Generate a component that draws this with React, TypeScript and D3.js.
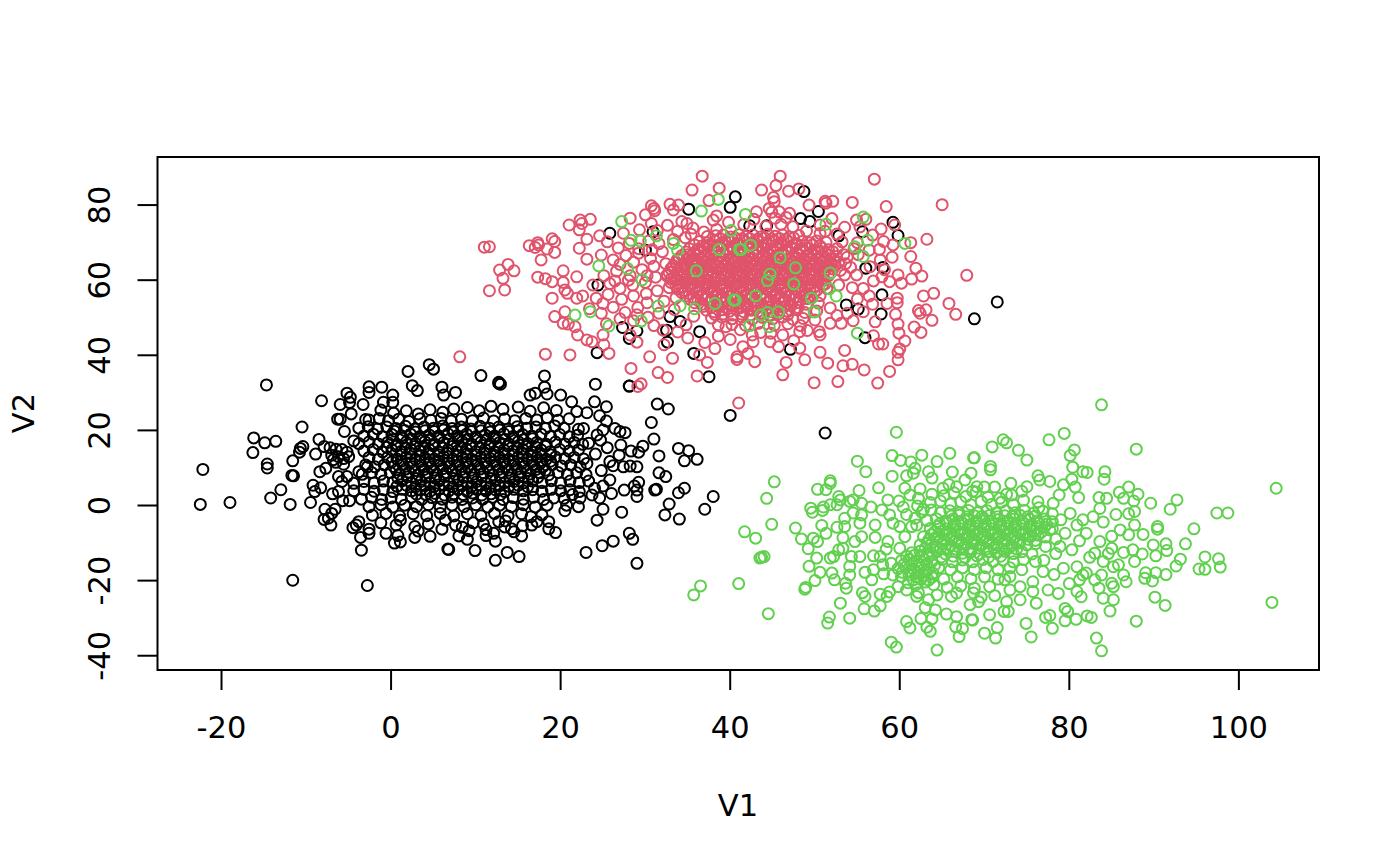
import React from 'react'
import * as d3 from 'd3'

// flat lists of V1,V2 pairs
const blackEdge = [
-14.7,32.1,-8.2,27.9,-10.5,20.9,-16.2,18,-14.9,16.7,-13.6,17.1,-16.3,14.1,-14.6,11.05,-14.6,10,-22.2,9.6,-22.5,0.3,-19,0.8,-14.2,2,-13,4.2,-11.9,0.3,-9.5,0.8,-11.6,11.9,-10.7,15.2,-10.4,15.7,-10.8,14.2,-11.7,8,-11.5,7.9,-11.6,-19.9,-2.8,-21.3,-3.5,-11.9,6.7,-11.6,-9.2,5.4,-9,3.7,-8.3,4.7,-8.5,17.6,-8.9,13.7,-8.4,9,-7.7,9.9,-7.8,-1,-7.9,-3.7,-7.4,-3.4,-7.1,-5.2,-6.6,-1,-7,-2.1,-6.9,3.1,-6.2,3.7,-5.7,1.3,-4.9,1.3,-4.5,-5.9,-3.8,-4.3,-4.1,-5.2,-2.6,-6.3,-2.6,-7.4,-3.6,-8.5,-5.5,19.7,-4.4,17.2,-3,22.9,-4.7,24.4,-6,23,-6.3,23,-3.3,26.9,-6,26.9,-4.9,27.4,-5.2,29.9,-4.8,28.8,-2.6,31.6,-2.6,30.1,-1.1,31.5,0.2,29.4,0.2,27.5,-0.9,27.5,2,35.7,2.5,31.9,3.1,30.6,4.5,37.5,5,36.3,6,31.5,6.2,29.4,7.6,30.1,
-7.9,15.7,-7.2,15.4,-6.5,15,-5.8,14.9,-5.2,14.2,-5,13,-5.6,12.5,-6.2,13,-7,13.4,-6.5,11.5,-5.6,11,-6.8,12.2,-6.2,7.7,-5.2,7.7,-5.8,6.4,-3.8,9,-2.8,10.3,
10.6,34.6,12.7,32.5,12.7,32.8,12.9,32.3,18.1,34.5,18.1,31.5,18.4,29.7,17,29.9,16.4,29.4,20,29.4,24.1,32.3,28.1,31.8,31.4,27,32.7,25.7,30.7,22.1,31,17.7,29.7,15.8,28.3,14.5,29.2,14.2,27.1,16.1,26.9,13.4,25.5,15.4,31.6,13.2,33.9,15.2,35.1,14.6,34.6,11.9,36.1,12.3,31.6,8.7,32.4,7.7,29.2,6.2,29,4.1,28.7,5.2,31.3,4.3,31.1,4.1,34.6,4.6,33.9,3.4,32.8,0.4,38,2.4,37,-1,32.3,-2.5,34,-3.6,29,2.4,27.5,4.1,27.2,-1.8,25,-1,24.3,-3.9,28.1,-7.4,28.5,-9,29,-15.4,26.2,-9.5,24.9,-10.7,23,-12.5,19.4,-7.2,18.6,-6.2,18.6,-4.3,15.1,-13.6,13.7,-12.5,12.3,-14.6,9.9,-12,6.8,-11.7,9,-9,8,-8.1,12.3,-9.5,12.1,-7.4,11.2,-8,15.4,-8.1,14.5,-7,15.5,-5.4,6.4,-3.9,7.6,-5.2,9.7,-4.6,10.9,-4.9,12.7,-4.3,13.5,-4.1,16.5,-3,17.8,-2.5,22.1,-0.3,20.5,-1.4,20.7,0.1,22.3,2,23.7,2.8,24.6,2,26,3.2,25.8,6.8,24.8,9.3,29,10.3,28.2,10.5,27.4,10.3,26.2,10.6,25.8,11.7,27.6,19.4,27,19.7,26.4,20.5,25,20.1,25.4,22.5,24.6,23.9,25.4,26.3,24,27.6,23.1,24.7,21.9,25,21.3,27.6,22.7,20.5,22.1,20.3,24.3,18.8,24.7,17.4,23.3,16.6,24.1,13.7,23.1,11.2,
35.1,78.9,40.6,82.2,40,79.4,25.8,72.5,30,68,24.4,58.7,27.3,47.4,28.1,44.5,29,46.5,32.6,43.5,24.3,40.7,35.7,40.5,37.5,34.3,28.1,31.8,30.9,72.9,32.9,50.3,34.1,49,32.5,46.7,36.4,46.3,48.7,83.6,50.4,78.3,48.3,76.4,49.4,75.6,55.6,72.9,59.2,75.4,59.8,71.9,57.8,51,68.8,49.7,71.5,54.2,55.9,44.7,47.1,41.6,57.9,56.1,56,63.2,58,63.4,53.7,53.4,55.1,52.3,44.3,74.5,42.3,74.5,52.8,71.8,51.2,19.3,40,24
]
const blackCore = [
-1.2,25.4,0.3,24.6,1.8,25.2,3.2,24.4,4.6,25.5,6.1,24.8,7.4,25.7,9,26.1,10.4,25.2,11.8,26.4,13.2,25.6,15,26.2,16.4,25.1,18,26,19.5,25.3,
-2.6,22.8,-1.4,23.2,-0.3,22.6,0.9,23,2.1,22.4,3.4,23.1,4.7,22.7,5.9,23.2,7.1,22.5,8.3,23,9.6,22.6,10.9,23.3,12.1,22.5,13.4,23.1,14.6,22.6,15.9,23.2,17.2,22.8,18.4,23.4,19.7,22.7,21,23.1,
-3.8,20.6,-2.7,21,-1.6,20.4,-0.5,20.9,0.6,20.5,1.7,21.1,2.8,20.4,3.9,20.9,5,20.6,6.1,21.2,7.2,20.5,8.3,20.9,9.4,20.4,10.5,21.1,11.6,20.6,12.7,20.9,13.8,20.3,14.9,21,16,20.6,17.1,20.9,18.2,20.5,19.3,21.2,20.4,20.6,
-3.2,18.5,-2.1,19,-1,18.4,0.1,18.9,1.2,18.6,2.3,19,3.4,18.4,4.5,18.8,5.6,18.5,6.7,19.1,7.8,18.6,8.9,19,10,18.3,11.1,18.8,12.2,18.5,13.3,19.1,14.4,18.4,15.5,18.9,16.6,18.5,17.7,19,18.8,18.4,19.9,18.9,21,18.3,22,18.7,
-3.8,16.5,-2.6,16.9,-1.5,16.4,-0.4,16.8,0.7,16.3,1.8,16.9,2.9,16.5,4,17,5.1,16.4,6.2,16.8,7.3,16.5,8.4,17,9.5,16.3,10.6,16.9,11.7,16.5,12.8,16.8,13.9,16.4,15,17,16.1,16.5,17.2,16.8,18.3,16.3,19.4,16.9,20.5,16.4,21.6,16.8,22.6,16.3,
-3.2,14.5,-2.1,14.9,-1,14.3,0.1,14.8,1.2,14.4,2.3,15,3.4,14.6,4.5,14.9,5.6,14.3,6.7,14.8,7.8,14.5,8.9,15,10,14.4,11.1,14.9,12.2,14.3,13.3,14.8,14.4,14.5,15.5,15,16.6,14.4,17.7,14.8,18.8,14.3,19.9,14.9,21,14.5,22.1,14.8,
-2.6,12.8,-1.5,12.3,-0.4,12.8,0.7,12.4,1.8,12.9,2.9,12.3,4,12.7,5.1,12.4,6.2,13,7.3,12.4,8.4,12.8,9.5,12.3,10.6,12.9,11.7,12.5,12.8,12.8,13.9,12.3,15,12.9,16.1,12.4,17.2,12.8,18.3,12.3,19.4,12.9,20.5,12.5,21.6,12.8,22.7,12.4,
-3,10.8,-1.9,10.3,-0.8,10.8,0.3,10.4,1.4,10.9,2.5,10.3,3.6,10.7,4.7,10.3,5.8,10.9,6.9,10.4,8,10.8,9.1,10.3,10.2,10.9,11.3,10.4,12.4,10.8,13.5,10.3,14.6,10.9,15.7,10.4,16.8,10.8,17.9,10.3,19,10.9,20.1,10.5,21.2,10.8,22.3,10.3,
-3.4,8.3,-2.3,8.8,-1.2,8.3,-0.1,8.8,1,8.4,2.1,8.9,3.2,8.2,4.3,8.7,5.4,8.3,6.5,8.8,7.6,8.3,8.7,8.9,9.8,8.4,10.9,8.7,12,8.2,13.1,8.8,14.2,8.3,15.3,8.9,16.4,8.4,17.5,8.7,18.6,8.2,19.7,8.8,20.8,8.3,21.9,8.7,23,8.2,
-4.4,5.9,-3.2,6.4,-2,6,-0.9,6.5,0.2,6.1,1.3,6.6,2.4,6,3.5,6.4,4.6,6.1,5.7,6.6,6.8,6,7.9,6.5,9,6.1,10.1,6.4,11.2,6,12.3,6.6,13.4,6.1,14.5,6.4,15.6,6,16.7,6.5,17.8,6.1,18.9,6.6,20,6,21.1,6.5,22.2,6.1,23.3,6.5,
-4.4,3.9,-3.2,4.3,-2,3.8,-0.9,4.2,0.2,3.7,1.3,4.3,2.4,3.9,3.5,4.2,4.6,3.8,5.7,4.4,6.8,3.9,7.9,4.2,9,3.7,10.1,4.3,11.2,3.9,12.3,4.2,13.4,3.7,14.5,4.3,15.6,3.9,16.7,4.2,17.8,3.8,18.9,4.3,20,3.9,21.1,4.2,22.2,3.7,24,4.6,25,5.2,
-3.5,1.7,-2.3,2.2,-1.1,1.6,0,2,1.2,1.7,2.4,2.2,3.6,1.6,4.8,2.1,6,1.7,7.2,2.2,8.4,1.6,9.6,2,10.8,1.7,12,2.2,13.2,1.6,14.4,2.1,15.6,1.7,16.8,2.2,18,1.6,19.2,2,20.4,1.9,21.4,2.9,
-2.6,-0.3,-1.2,0.2,0.2,-0.4,1.6,0.1,3,-0.3,4.4,0.2,5.8,-0.4,7.2,0.1,8.6,-0.3,10,0.2,11.4,-0.4,12.8,0.1,14.2,-0.3,15.6,0.2,17,-0.4,18.4,0.1,
-2.2,-2.6,-0.6,-2.1,1,-2.8,2.6,-2.2,4.2,-2.7,5.8,-2.1,7.4,-2.8,9,-2.2,10.6,-2.7,12.2,-2.1,13.8,-2.8,15.4,-2.2,
-1.2,-4.6,0.6,-5.2,1.1,-3.9,2.8,-5.6,4.4,-4.9,6,-6.3,8.4,-5.8,9.2,-6.7,11.2,-6.4,13.4,-5.7,-0.6,-7.4,0.8,-8,1.1,-9.7,0.4,-10,3.2,-6.8,2.8,-8.5,4.6,-8.2,14.2,-6.2,16.6,-5.2,17.2,-4.3
]
const blackDense = [
0.4,19.8,1.6,20,2.9,19.6,4,19.9,5.1,19.7,6.2,20.1,7.3,19.6,8.4,20,9.5,19.7,10.6,19.9,11.7,19.6,12.8,20.1,13.9,19.7,15,19.9,
0.2,17.6,1.3,17.9,2.4,17.5,3.5,17.8,4.6,17.6,5.7,18,6.8,17.5,7.9,17.8,9,17.6,10.1,17.9,11.2,17.5,12.3,17.8,13.4,17.6,14.5,17.9,15.6,17.5,16.7,17.8,
-0.5,15.5,0.6,15.8,1.7,15.4,2.8,15.7,3.9,15.5,5,15.9,6.1,15.4,7.2,15.7,8.3,15.5,9.4,15.8,10.5,15.4,11.6,15.7,12.7,15.5,13.8,15.8,14.9,15.4,16,15.7,17.1,15.5,18.2,15.8,
1.2,13.6,2.3,13.8,3.4,13.4,4.5,13.7,5.6,13.5,6.7,13.9,7.8,13.4,8.9,13.7,10,13.5,11.1,13.8,12.2,13.4,13.3,13.7,14.4,13.5,15.5,13.8,16.6,13.4,17.7,13.7,18.8,13.5,
0.1,11.6,1.2,11.8,2.3,11.4,3.4,11.7,4.5,11.5,5.6,11.9,6.7,11.4,7.8,11.7,8.9,11.5,10,11.8,11.1,11.4,12.2,11.7,13.3,11.5,14.4,11.8,15.5,11.4,16.6,11.7,17.7,11.5,18.8,11.8,
0.6,9.5,1.7,9.7,2.8,9.3,3.9,9.6,5,9.4,6.1,9.8,7.2,9.3,8.3,9.6,9.4,9.4,10.5,9.7,11.6,9.3,12.7,9.6,13.8,9.4,14.9,9.7,16,9.3,17.1,9.6,18.2,9.4,
0.8,7.3,1.9,7.6,3,7.2,4.1,7.5,5.2,7.3,6.3,7.7,7.4,7.2,8.5,7.5,9.6,7.3,10.7,7.6,11.8,7.2,12.9,7.5,14,7.3,15.1,7.6,16.2,7.2,17.3,7.5,
0.7,5.1,1.8,5.4,2.9,5,4,5.3,5.1,5.1,6.2,5.5,7.3,5,8.4,5.3,9.5,5.1,10.6,5.4,11.7,5,12.8,5.3,13.9,5.1,15,5.4,16.1,5,
3,3,4.1,2.9,5.2,3.2,6.3,2.8,7.4,3.1,8.5,2.9,9.6,3.3,10.7,2.8,11.8,3.1,12.9,2.9
]

const redEdge = [
36.7,87.7,35.5,84,38.7,84.5,37.5,81.2,8.1,39.6,18.2,40.3,21.1,40.1,25.7,40.5,30.5,39.6,33.2,39.2,28.3,36.5,31.5,35.4,32.6,34.1,36.1,34.5,29.5,32.4,29.1,31.7,37.3,38.1,36.4,40.1,11,68.8,11.6,68.9,13.8,64.2,12.8,62.7,14.5,62.5,13.2,60.5,11.6,57.2,13.4,57.4,16.3,69.2,17.3,70,17.4,69.4,17,68.7,18.4,68.3,19,71,19.3,70.3,19.3,67.4,17.7,65.4,21,74.7,22.3,76,22.5,75.1,22.2,73.4,23.5,76.2,23.1,70.9,22.2,68.5,24.6,71.8,23.1,65.6,20.3,62.5,17.3,60.8,18.2,60.4,19,59.6,20.3,59.4,21.9,60.9,20.5,57.4,20.8,56.5,19,55.2,21.9,55.2,20.5,51.6,19.3,50.3,20.3,48.5,20.9,48.3,21.7,47.6,22,45.4,23.1,44.1,23.7,43.6,25,45.4,25.1,42.8,28.2,45.4,29,43.5,32.2,42.8,32.1,46.7,28.2,76.5,30.7,79.8,31,79.1,31.1,78.5,32.9,80.2,33.9,80,33.3,78.7,30,77.4,30.7,75.1,34.3,75.6,34.9,75.1,38,76,38.4,77.1,
45.9,87.7,45.4,85.2,43.7,84,46.9,83.7,48.1,84.3,57,86.9,65,80.1,54.4,80.7,58.4,79.6,52.1,81,51.2,81,51.3,80.5,49.3,80,45.1,82,45.2,80.9,44.6,79.1,43.1,78.2,44.9,78.1,45.8,78.2,47,77.8,46.6,76.7,45.3,76.5,54.9,76,56,76.2,53.5,74.1,50.6,74.7,57.8,73.6,63.2,70.9,56.8,72,58.1,70.3,59.4,74.7,61.3,70,59.2,69.4,57.6,68.2,59.1,66.1,61.3,66.3,61.9,63.2,62.6,61.1,61.4,60.3,67.9,61.3,60.2,59.2,59.8,61.4,64,56.5,62.8,55.8,65.8,53.8,66.6,50.9,63.8,49.3,63.1,52.1,62.2,51.9,62.4,51.2,61.7,47.5,62.5,46.1,59.5,50.9,59.8,48.3,59.9,45.9,60.6,43.8,60,41.7,59.8,40.8,59.8,38.8,58.8,35.7,57.4,32.6,52.7,33,49.9,32.7,55.8,36.1,54.4,37.6,53.3,37.2,53.5,41.3,51.5,37.9,50.6,40.8,48.8,38.8,46.6,38.1,46.2,34.8,42.9,38.3,42.1,40.5,40.8,38.9,40.8,39.6,41.5,42.3,57.5,43,58,43,56.9,45.2,59.7,54,59.7,55.2,58.5,53.8,56.4,55.8,50.6,45.4,50.5,46.3,48.2,46.3,49.1,46.6,55.7,51.6,54.5,49.2,53.1,48.5,51.8,48.5,48.2,41.9,45.7,42.3,42.7,43.6,44.7,43.6,55.7,57.8,54.9,61.4,56.5,63.6,57.9,60.9,58.8,59.6,57.7,65.4,53.5,61.4,52.8,58.7,41,27.3
]
const redCore = [
25.5,70.2,26.8,68.6,28.1,69.8,27.4,72.5,29.3,73.4,31.4,73.2,32.6,74.6,33.8,73,35.6,73.9,36.9,72.8,38.4,73.5,39.8,75.4,41.6,74.8,42.8,76.2,44.2,74.3,46,74.9,47.4,74.2,49,73.1,50.6,72.4,
24.8,66.7,26.2,65.4,27.7,66.6,29.2,67.2,30.6,65.8,32,67.6,33.3,70.8,34.7,71.3,31.6,69.7,25.1,61.2,26.6,62.4,28.2,61.2,29.6,62.8,31,63.7,32.4,64.4,33.8,65.6,35,66.8,36.2,68.2,37.6,69.2,23.8,58.7,25.8,59.1,27,57.8,28.5,58.7,30,59.4,31.2,60.8,32.6,61.4,22.6,55.8,24.2,55.2,25.6,56.2,27.2,54.9,28.6,55.8,30.1,56.4,31.4,57.2,32.8,58,23.4,52.4,24.8,51.2,26.2,52.8,27.6,51.4,29.1,52.7,30.2,54,32.2,54.4,33.6,55.3,25.4,48.4,27,49.7,28.6,49.2,30.3,50.1,31.6,51.2,33.4,52.2,34.8,48.1,35.7,50.4,31,47.9,33.8,46.2,35,44.6,37,43.4,38.6,45.1,40,44.2,41.2,46.8,39.5,47.6,43.6,46.1,46.2,45.4,47.5,43.9,38.2,41.8,
38.3,71.8,39.2,72,40.1,71.5,41,72.1,41.9,71.6,42.7,72,43.6,71.5,44.4,72.2,45.3,71.7,46.2,72,47,71.5,48.1,71.9,
36.4,70.3,37.3,70,38.2,70.4,39,69.9,39.9,70.3,40.8,69.8,41.6,70.4,42.5,70,43.3,70.3,44.2,69.9,45.1,70.4,45.9,70,46.8,70.3,47.7,69.8,48.5,70.3,49.4,70,50.2,70.4,51.3,70.1,
35.2,68.4,36.1,68,37,68.6,37.8,68.1,38.7,68.5,39.6,68,40.4,68.6,41.3,68.2,42.1,68.5,43,68,43.9,68.6,44.7,68.1,45.6,68.4,46.5,68,47.3,68.6,48.2,68.2,49,68.5,49.9,68,50.8,68.6,51.6,68.1,52.6,68.4,
34.3,66.6,35.2,66.2,36.1,66.7,36.9,66.3,37.8,66.8,38.7,66.3,39.5,66.7,40.4,66.2,41.2,66.8,42.1,66.3,43,66.6,43.8,66.2,44.7,66.8,45.6,66.3,46.4,66.7,47.3,66.2,48.1,66.8,49,66.4,49.9,66.6,50.7,66.2,51.6,66.7,52.5,66.3,53.4,66.8,
33.6,64.8,34.6,64.4,35.5,64.9,36.3,64.5,37.2,65,38.1,64.4,38.9,64.9,39.8,64.5,40.6,65,41.5,64.4,42.4,64.8,43.2,64.5,44.1,65,45,64.4,45.8,64.9,46.7,64.5,47.5,65,48.4,64.4,49.3,64.8,50.1,64.5,51,65,51.9,64.4,52.8,64.8,53.6,64.4,
33,63,33.9,62.6,34.8,63.1,35.7,62.7,36.5,63.2,37.4,62.6,38.3,63,39.1,62.7,40,63.2,40.9,62.6,41.7,63.1,42.6,62.7,43.4,63.2,44.3,62.6,45.2,63,46,62.7,46.9,63.2,47.8,62.6,48.6,63.1,49.5,62.7,50.4,63.2,51.2,62.6,52.1,63,53,62.6,
32.5,61.2,33.4,60.8,34.3,61.3,35.2,60.9,36,61.4,36.9,60.8,37.8,61.2,38.6,60.9,39.5,61.4,40.4,60.8,41.2,61.3,42.1,60.9,42.9,61.4,43.8,60.8,44.7,61.2,45.5,60.9,46.4,61.4,47.3,60.8,48.1,61.3,49,60.9,49.9,61.4,50.7,60.8,51.6,61.2,
33,59.4,33.9,59,34.8,59.5,35.6,59.1,36.5,59.6,37.4,59,38.2,59.4,39.1,59.1,40,59.6,40.8,59,41.7,59.5,42.5,59.1,43.4,59.6,44.3,59,45.1,59.4,46,59.1,46.9,59.6,47.7,59,48.6,59.5,49.5,59.1,50.3,59.6,51.2,59,
33.8,57.6,34.7,57.2,35.5,57.7,36.4,57.3,37.3,57.8,38.1,57.2,39,57.6,39.9,57.3,40.7,57.8,41.6,57.2,42.4,57.7,43.3,57.3,44.2,57.8,45,57.2,45.9,57.6,46.8,57.3,47.6,57.8,48.5,57.2,49.4,57.7,50.2,57.3,51.4,57.8,
34.8,55.8,35.7,55.4,36.6,55.9,37.4,55.5,38.3,56,39.2,55.4,40,55.8,40.9,55.5,41.8,56,42.6,55.4,43.5,55.9,44.3,55.5,45.2,56,46.1,55.4,46.9,55.8,47.8,55.5,48.7,56,49.6,55.4,50.6,55.9,
35.8,54,36.7,53.6,37.6,54.1,38.5,53.7,39.3,54.2,40.2,53.6,41.1,54,41.9,53.7,42.8,54.2,43.7,53.6,44.5,54.1,45.4,53.7,46.2,54.2,47.1,53.6,48,54,49,53.6,50.4,53.9,51.8,52.6,
37.2,52,38.1,51.6,39,52.1,39.9,51.7,40.7,52.2,41.6,51.6,42.5,52,43.3,51.7,44.2,52.2,45,51.6,45.9,52.1,46.8,51.7,47.7,52.2,48.8,51.4,50.2,51.8,52.6,50.6,53.8,51.2,
37.8,49.9,39,50.2,40.2,49.7,41.4,50.2,42.6,49.6,43.8,50.1,45,49.7,46.2,50.2,47.4,49.6,48.6,49.8,50,49.4,38.6,48.1,40.2,48.2,41.8,48,43.3,48.5,45.2,48,46.8,48.4,48.3,47.9,42.6,45.4,44.8,45.9,57.1,48.9,56.8,53.6,55,55,54.4,58,53.8,66.1,55.1,66.8,55,70,56.4,68,58.2,62.8,56.9,59.8,54.2,63.4,54.6,68.4,53.2,70.2,52.6,72.3,51.2,73,55.3,74.2,52,76.4
]
const redDense = [
38.8,71.1,39.7,70.9,40.6,71.2,41.4,71,42.3,71.1,43.2,70.8,44,71.2,44.9,71,45.8,71.1,46.6,70.9,47.5,71.2,
35.8,69.4,36.7,69.1,37.6,69.5,38.4,69.2,39.3,69.4,40.2,69,41,69.5,41.9,69.2,42.7,69.4,43.6,69.1,44.5,69.5,45.3,69.2,46.2,69.4,47.1,69,47.9,69.5,48.8,69.2,49.7,69.4,50.6,69.1,
34.8,67.5,35.7,67.2,36.5,67.6,37.4,67.3,38.3,67.6,39.1,67.2,40,67.5,40.9,67.3,41.7,67.7,42.6,67.2,43.4,67.5,44.3,67.3,45.2,67.6,46,67.2,46.9,67.5,47.8,67.3,48.6,67.7,49.5,67.2,50.4,67.5,51.2,67.3,52.1,67.6,
34,65.7,34.9,65.4,35.8,65.8,36.6,65.5,37.5,65.9,38.4,65.4,39.2,65.7,40.1,65.5,41,65.9,41.8,65.4,42.7,65.8,43.5,65.5,44.4,65.9,45.3,65.4,46.1,65.7,47,65.5,47.9,65.9,48.7,65.4,49.6,65.8,50.5,65.5,51.3,65.9,52.2,65.4,
33.3,63.9,34.2,63.6,35,64,35.9,63.7,36.8,64.1,37.7,63.6,38.5,63.9,39.4,63.7,40.3,64.1,41.1,63.6,42,64,42.9,63.7,43.7,64.1,44.6,63.6,45.4,63.9,46.3,63.7,47.2,64.1,48,63.6,48.9,64,49.8,63.7,50.6,64.1,51.5,63.6,52.4,63.9,
32.8,62.1,33.7,61.8,34.6,62.2,35.4,61.9,36.3,62.3,37.2,61.8,38,62.1,38.9,61.9,39.8,62.3,40.6,61.8,41.5,62.2,42.3,61.9,43.2,62.3,44.1,61.8,44.9,62.1,45.8,61.9,46.7,62.3,47.5,61.8,48.4,62.2,49.3,61.9,50.1,62.3,51,61.8,51.9,62.1,
33,60.3,33.8,60,34.7,60.4,35.6,60.1,36.4,60.5,37.3,60,38.2,60.3,39,60.1,39.9,60.5,40.8,60,41.6,60.4,42.5,60.1,43.3,60.5,44.2,60,45.1,60.3,45.9,60.1,46.8,60.5,47.7,60,48.5,60.4,49.4,60.1,50.3,60.5,51.1,60,
33.6,58.5,34.4,58.2,35.3,58.6,36.2,58.3,37,58.7,37.9,58.2,38.8,58.5,39.6,58.3,40.5,58.7,41.3,58.2,42.2,58.6,43.1,58.3,43.9,58.7,44.8,58.2,45.7,58.5,46.5,58.3,47.4,58.7,48.3,58.2,49.1,58.6,50,58.3,50.9,58.7,
34.3,56.7,35.2,56.4,36,56.8,36.9,56.5,37.8,56.9,38.6,56.4,39.5,56.7,40.4,56.5,41.2,56.9,42.1,56.4,42.9,56.8,43.8,56.5,44.7,56.9,45.5,56.4,46.4,56.7,47.3,56.5,48.1,56.9,49,56.4,49.9,56.8,
35.3,54.9,36.2,54.6,37,55,37.9,54.7,38.8,55.1,39.6,54.6,40.5,54.9,41.4,54.7,42.2,55.1,43.1,54.6,43.9,55,44.8,54.7,45.7,55.1,46.5,54.6,47.4,54.9,48.3,54.7,49.1,55.1,
36.8,53,37.7,52.7,38.6,53.1,39.4,52.8,40.3,53.2,41.2,52.7,42,53,42.9,52.8,43.7,53.2,44.6,52.7,45.5,53.1,46.3,52.8,47.2,53.2,48,52.7,
38.2,50.9,39.2,51,40.3,50.7,41.3,51,42.4,50.8,43.5,51.1,44.6,50.7,45.7,51,46.8,50.8,30.4,70.4,29.2,68.4,30.8,68.1,27,64.2,28.6,64.8,30.2,61.2,28,60,26.4,59.8,25,53.8,29,50.8,35.4,72.2,37.3,71.6
]

const greenInRed = [
27.2,75.6,28.3,70.6,29.4,70.4,31.3,71.8,33.3,69.8,33.8,67.9,38.7,68.2,40.1,73.2,38.6,81.5,36.6,78.4,24.5,63.8,27.9,63.1,29.6,60.1,36,62.5,41.1,68.2,21.7,50.7,23.5,51.6,25.7,47.8,29.5,49.1,31.5,53.1,34.1,53.2,35.8,52.4,38.2,53.8,40.4,54.7,40.6,54.7,41.8,77.5,55.7,76.8,51.3,74.9,60.6,69.8,54.7,68.9,56.2,70.6,55.7,66.3,45.9,66,42.4,69.3,41.3,68.2,47.7,63.3,51.8,61.9,44.7,61.6,44.4,59.9,47.5,59,51.7,57.7,52.5,55.8,49.6,55.2,43,55.8,45.7,51.5,44.4,51.4,43.6,50.7,49.9,51.5,42.3,47.9,44.6,47.6,55,45.9
]
const greenEdge = [
59.6,19.5,45.2,6.3,44.3,1.9,44.9,-5,41.7,-7,43,-8.7,41,-20.8,44.5,-28.8,43.7,-13.8,44,-13.6,43.5,-14,36.5,-21.4,35.7,-23.8,47.7,-6,48.4,-8.9,49.2,-11.5,49.8,-8.7,50.3,-9.6,50.2,-14,49.3,-16.2,50.6,-17.8,50,-20,48.8,-22.3,48.9,-21.8,49.5,-0.7,49.7,-1.8,51,-0.4,50.9,-1.3,50.3,4.3,51.3,4.2,51.8,6.6,51.8,5.9,50.8,-5.3,51.3,-7.4,52.6,-5.8,53.3,-8.6,52.8,2.4,53,1.5,52.6,0.2,51.8,0.2,51.8,-14,52.2,-13.6,52.8,-11.8,52,-18,52.3,-19.8,53.6,-20.7,53.7,-22,54.1,-16.2,54.1,-18.5,53,-26,51.7,-29.7,51.5,-31.3,54.1,-30,55.8,-27.5,57,-28.1,57.7,-26.7,55.6,-23.2,55.9,-24.2,57.7,-23.6,58.5,-24.2,58.8,-23,55.2,4,55,11.8,56,9,57.5,4.7,59.1,13.3,60.1,12,59.1,7.8,62.6,13.4,61.3,11.6,64.4,11.7,65.9,13.9,68.7,12.7,66.2,8.9,63.4,9,61.8,9.9,61.6,8.6,60.8,7.9,63.8,7.3,68.4,8.6,67.7,6.8,66.7,5,65.1,4.6,60.8,-30.9,61.2,-32.6,62.5,-30.1,63.2,-32.4,63.6,-33.5,59,-36.4,59.6,-37.7,64.4,-38.5,66.6,-32.3,67.4,-32.8,67,-34.9,68.5,-30.4,66.7,-29.6,65.5,-28.9,63.8,-30.2,64.2,-27.8,63,-27.2,63.4,-25.1,64.4,-23.8,62,-24.2,60.8,-22.5,66.1,-24.2,66.7,-23.3,68.3,-26.4,68.7,-23.3,69.3,-25.6,54.5,1.5,54.1,1.1,55.5,0.6,56.6,-0.4,57.9,-1.2,58.6,1.5,59.9,1.2,60.4,-0.4,62.1,-0.1,60.6,4.6,61.2,2.8,62.2,1.9,54.5,-2,55.5,-2.5,53.5,-3.4,53.5,-5.6,55.3,-4.7,57.1,-5.2,57.1,-8.5,55.5,-8.3,54.7,-9.6,53.3,-11.4,54.3,-13.6,55.3,-13.6,56.9,-13.4,57.7,-13.6,58.6,-9.6,60,-11.4,60.6,-8.3,55.9,-17.8,56.9,-17.1,56.7,-19.8,58.1,-18.2,59.2,-18.5,59.2,-4.7,58.8,-2.5,60,-5.6,62,-5.2,61.4,-5.6,59.8,-21.6,62.2,-23.2,
83.8,26.8,79.4,19.2,77.6,17.5,72.2,17.5,72.6,16.7,70.9,15.6,74,14.7,75,12.1,68.8,12.7,70.7,10.4,70.7,9.5,80.6,14.8,80.1,13.3,87.9,15,104.4,4.6,80.4,10.2,81.6,9,82.1,8.8,84.2,9,84.1,7,92.7,1.5,91.9,-1,89.6,0.6,87,4.9,85.9,3.5,88.1,3,86.4,1.9,87.6,1.2,97.4,-2,98.7,-2,94.7,-6.2,93.7,-10.2,93.1,-14.3,92.6,-16.1,96,-13.7,95.3,-16.9,96,-17,97.6,-14.2,97.8,-16.4,103.9,-25.8,91.4,-18.4,90.1,-24.4,91.3,-26.6,87.9,-30.8,83.2,-35.3,83.8,-38.7,84.8,-28.1,82.6,-29.8,82.1,-29.4,80.8,-30.3,79.5,-30.7,78,-32.7,75.5,-35,74.9,-31.4,71.5,-32.5,70,-34,71.3,-35.3,70.6,-29.1,68.6,-30.5,77.7,-29.3,77.2,-29.8,72.8,-28.2,72.3,-28.2,79.5,-27.4,79.8,-28.2,81.4,-24.3,80.9,-22.9,85.2,-25.1,84,-24.7,86.7,-20.3,85.2,-21.6,85,-20.7,83.5,-22,89,-17.9,88.9,-19.4,89.8,-20.1,90.2,-17.9,90.2,-13.4,91.5,-12,91.4,-10.2,89.9,-10.5,88.7,-7.7,90.4,-5.6,90.4,-6.3,87.7,-5.2,87,-2.2,87.7,-1.6,85.5,-2.4,84.4,1.9,83.5,2.1,81.1,2.1,80.7,4.9,80.3,7,79.3,5.5,77.7,6.4,76.3,7.9,76.5,6.8,75,5,73.1,5.9,71.2,4.9,70,4.9,69.1,5,87.7,-14.9,87.5,-11.8,86.4,-12.5,85,-11.4,86,-6.5,87,-7.8,85.8,-15.8,86.4,-18.5,85.2,-16.3,83.8,-18.5,84,-14.9,83,-12.7,82,-7.4,82.8,-3,80.1,-2.1,80.9,-5.2,79.5,-7.4,80.3,-11.8,78.9,-10.9,82,-18,81.2,-19.8,79.3,-16.7,76.9,-17.6,75.7,-20.3,74.2,-21.6,73,-22.5,70.6,-21.6,76.1,-26,74.2,-25.1,75.7,-22.9,78.7,-23.4,77.5,-22.5,78.1,0.6,76.3,1,73.2,2.8,71.8,1.9,77.7,-6.5,80.9,-16.3,81.6,-18.5,83,-19.8
]
const greenCore = [
65.2,2.6,66.4,3.4,67.8,2.4,69,3.6,70.4,2.2,63.6,0.8,64.8,1.2,66,0.4,67.2,1,68.4,0.2,69.6,1.1,70.8,0.3,72,0.9,73.4,0.2,74.6,1.4,
62.6,-1.8,63.7,-1.2,64.8,-1.9,65.9,-1.4,67,-2,68.1,-1.3,69.2,-1.9,70.3,-1.4,71.4,-2,72.5,-1.4,73.6,-1.9,74.7,-1.3,75.8,-2,76.9,-1.5,78,-2.2,
63.2,-4,64.3,-3.5,65.4,-4.1,66.3,-3.6,67.2,-4.2,68.1,-3.6,69,-4.1,69.9,-3.5,70.8,-4.2,71.7,-3.7,72.6,-4.1,73.5,-3.6,74.4,-4.2,75.3,-3.6,76.2,-4.1,77.1,-3.6,78,-4.3,
63.6,-6.1,64.5,-5.6,65.4,-6.2,66.3,-5.7,67.2,-6.2,68.1,-5.6,69,-6.1,69.9,-5.7,70.8,-6.2,71.7,-5.6,72.6,-6.1,73.5,-5.7,74.4,-6.2,75.3,-5.6,76.2,-6.1,77.1,-5.7,78,-6.2,
62.8,-8.3,63.7,-7.8,64.6,-8.4,65.5,-7.9,66.4,-8.4,67.3,-7.8,68.2,-8.3,69.1,-7.9,70,-8.4,70.9,-7.8,71.8,-8.3,72.7,-7.9,73.6,-8.4,74.5,-7.8,75.4,-8.3,76.3,-7.9,77.2,-8.4,78.4,-8.9,
62.4,-10.5,63.3,-10,64.2,-10.6,65.1,-10.1,66,-10.6,66.9,-10,67.8,-10.5,68.7,-10.1,69.6,-10.6,70.5,-10,71.4,-10.5,72.3,-10.1,73.2,-10.6,74.1,-10,75,-10.5,76,-10.2,77.2,-10.9,
61.4,-12.6,62.4,-12.2,63.4,-12.8,64.4,-12.3,65.4,-12.9,66.4,-12.2,67.4,-12.7,68.4,-12.3,69.4,-12.9,70.4,-12.3,71.4,-12.7,72.4,-12.2,73.4,-12.8,74.4,-12.3,75.6,-12.9,
60.2,-14.7,61.1,-14.3,62,-14.8,62.9,-14.4,63.8,-14.9,65,-14.4,66.2,-15,67.4,-14.5,68.6,-15,69.8,-14.4,71,-14.9,72.2,-14.5,73.4,-15,74.6,-14.4,76,-14.9,
59.8,-16.8,60.7,-16.4,61.6,-16.9,62.5,-16.5,63.4,-17,64.6,-16.6,66,-17.1,67.4,-16.6,68.8,-17.1,70.2,-16.6,71.6,-17.1,73,-16.6,74.4,-17.1,
60.2,-18.9,61.1,-18.5,62,-19,62.9,-18.6,63.8,-19.1,65.2,-19.6,66.8,-19,68.4,-19.5,70,-19,71.6,-19.6,73,-18.9,61,-20.6,62,-20.9,63,-20.4,64,-21.1,65.6,-21.8,67.2,-21.4,68.8,-22,62.8,-1,58,-15.8,59,-15.4,58.4,-11.6,61.8,-3.4,60.8,-2.4,62.4,4.4,63.8,3,65.8,5.6,68.6,3.8,72.6,3,74.4,3.8,76.4,-0.6,79,-3.8,81.2,-9.4,78.4,-12.8,77,-14.6,78.2,-18.4,80,-20.8,72.4,-19.8,69.6,-24.4,71.2,-24,72.6,-25.6,84,-4.4,85,-8.2,83.6,-9.6,82.4,-13.8,84.6,-12.8,88.6,-12.9,81.6,-3.8,83.6,-0.8,78.8,2.8
]
const greenDense = [
66.1,-2.8,67,-2.6,67.9,-3,68.8,-2.7,69.7,-2.9,70.6,-2.6,71.5,-3,72.4,-2.7,73.3,-2.9,74.2,-2.6,75.1,-3,76,-2.8,
64.7,-4.9,65.6,-4.7,66.5,-5,67.4,-4.8,68.3,-5.1,69.2,-4.7,70.1,-5,71,-4.8,71.9,-5.1,72.8,-4.7,73.7,-5,74.6,-4.8,75.5,-5.1,76.4,-4.7,77.3,-5,
64.1,-7,65,-6.8,65.9,-7.1,66.8,-6.9,67.7,-7.2,68.6,-6.8,69.5,-7.1,70.4,-6.9,71.3,-7.2,72.2,-6.8,73.1,-7.1,74,-6.9,74.9,-7.2,75.8,-6.8,76.7,-7.1,
63.4,-9.2,64.3,-9,65.2,-9.3,66.1,-9.1,67,-9.4,67.9,-9,68.8,-9.3,69.7,-9.1,70.6,-9.4,71.5,-9,72.4,-9.3,73.3,-9.1,74.2,-9.4,75.1,-9,76,-9.3,
63,-11.4,63.9,-11.2,64.8,-11.5,65.7,-11.3,66.6,-11.6,67.5,-11.2,68.4,-11.5,69.3,-11.3,70.2,-11.6,71.1,-11.2,72,-11.5,72.9,-11.3,73.8,-11.6,
60.8,-13.5,61.7,-13.3,62.6,-13.6,63.5,-13.4,64.9,-13.7,66.3,-13.5,67.7,-13.8,69.1,-13.4,70.5,-13.7,71.9,-13.5,
60.5,-15.7,61.4,-15.5,62.3,-15.8,63.2,-15.6,64.1,-15.9,60.3,-17.8,61.2,-17.6,62.1,-17.9,63,-17.7,63.9,-18,61.6,-19.8,62.5,-19.7,63.4,-19.9
]

const xTicks = [-20, 0, 20, 40, 60, 80, 100]
const yTicks = [-40, -20, 0, 20, 40, 60, 80]
const xLimits = [-27.55, 109.45]
const yLimits = [-43.8, 92.8]

const palette = { black: '#000000', red: '#DF536B', green: '#61D04F' }

const frame = { left: 157.5, right: 1319, top: 157, bottom: 670 }

// back to [x, y] from a flat list
const pairs = (flat: number[]) => d3.range(0, flat.length - 1, 2).map(i => [flat[i], flat[i + 1]])

const series = [
  { color: palette.black, points: pairs(blackEdge.concat(blackCore, blackDense)) },
  { color: palette.red, points: pairs(redEdge.concat(redCore, redDense)) },
  { color: palette.green, points: pairs(greenInRed.concat(greenEdge, greenCore, greenDense)) }
]

export default function App() {
  const x = d3.scaleLinear().domain(xLimits).range([frame.left, frame.right])
  const y = d3.scaleLinear().domain(yLimits).range([frame.bottom, frame.top])
  const font = '"DejaVu Sans", sans-serif'
  const line = { stroke: '#000', strokeWidth: 2 }
  const labelSize = 30.5

  return (
    <svg width={1400} height={866} style={{ position: 'absolute', left: 0, top: 0, background: '#fff' }}>
      {series.map(s => (
        <g key={s.color} fill="none" stroke={s.color} strokeWidth={2}>
          {s.points.map((p, i) => (
            <circle key={i} cx={x(p[0])} cy={y(p[1])} r={5.5} />
          ))}
        </g>
      ))}

      <rect x={frame.left} y={frame.top} width={frame.right - frame.left} height={frame.bottom - frame.top} fill="none" {...line} />

      {/* x axis */}
      <line x1={x(xTicks[0])} x2={x(xTicks[xTicks.length - 1])} y1={frame.bottom} y2={frame.bottom} {...line} />
      {xTicks.map(t => (
        <g key={t}>
          <line x1={x(t)} x2={x(t)} y1={frame.bottom} y2={frame.bottom + 20} {...line} />
          <text x={x(t)} y={738} textAnchor="middle" fontFamily={font} fontSize={labelSize}>{t}</text>
        </g>
      ))}

      {/* y axis */}
      {yTicks.map(t => (
        <g key={t}>
          <line x1={frame.left - 20} x2={frame.left} y1={y(t)} y2={y(t)} {...line} />
          <text transform={`translate(110,${y(t)}) rotate(-90)`} textAnchor="middle" fontFamily={font} fontSize={labelSize}>{t}</text>
        </g>
      ))}

      <text x={738} y={816} textAnchor="middle" fontFamily={font} fontSize={labelSize}>V1</text>
      <text transform="translate(34,413) rotate(-90)" textAnchor="middle" fontFamily={font} fontSize={labelSize}>V2</text>
    </svg>
  )
}
